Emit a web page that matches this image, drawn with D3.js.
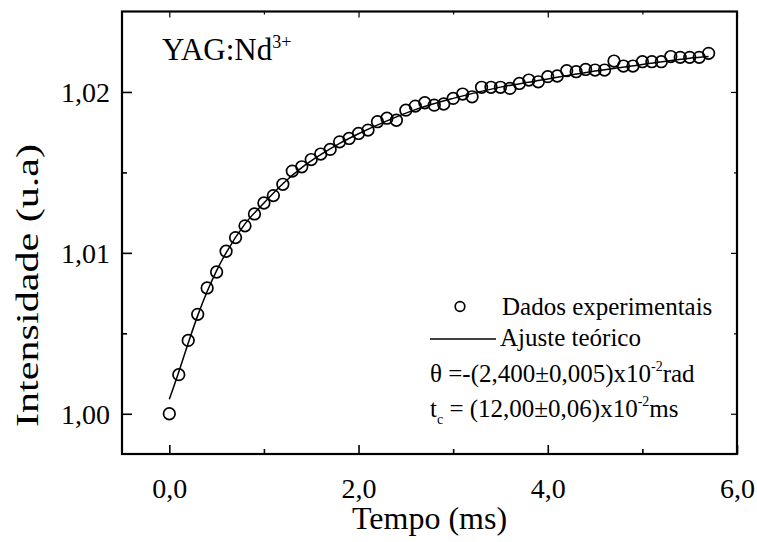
<!DOCTYPE html>
<meta charset="utf-8">
<script src="https://d3js.org/d3.v7.min.js"></script>
<style>
  html, body { margin: 0; padding: 0; background: #fff; }
  text { font-family: 'Liberation Serif', 'Times New Roman', serif; fill: #000; }
</style>
<body>
<div id="my_dataviz"></div>
<script>

// measured points (tempo in ms, intensidade in u.a)
var tempo = [0.0, 0.1, 0.2, 0.3, 0.4, 0.5, 0.6, 0.7, 0.8, 0.9,
             1.0, 1.1, 1.2, 1.3, 1.4, 1.5, 1.6, 1.7, 1.8, 1.9,
             2.0, 2.1, 2.2, 2.3, 2.4, 2.5, 2.6, 2.7, 2.8, 2.9,
             3.0, 3.1, 3.2, 3.3, 3.4, 3.5, 3.6, 3.7, 3.8, 3.9,
             4.0, 4.1, 4.2, 4.3, 4.4, 4.5, 4.6, 4.7, 4.8, 4.9,
             5.0, 5.1, 5.2, 5.3, 5.4, 5.5, 5.6, 5.7];
var intensidade = [1.00000, 1.00243, 1.00456, 1.00618, 1.00782, 1.00881, 1.01010, 1.01095, 1.01168, 1.01242,
                   1.01310, 1.01356, 1.01426, 1.01508, 1.01535, 1.01580, 1.01614, 1.01643, 1.01690, 1.01711,
                   1.01742, 1.01763, 1.01815, 1.01837, 1.01824, 1.01887, 1.01912, 1.01933, 1.01918, 1.01925,
                   1.01960, 1.01987, 1.01970, 1.02029, 1.02029, 1.02029, 1.02022, 1.02053, 1.02074, 1.02063,
                   1.02095, 1.02099, 1.02132, 1.02126, 1.02140, 1.02136, 1.02136, 1.02192, 1.02161, 1.02161,
                   1.02188, 1.02188, 1.02188, 1.02220, 1.02215, 1.02215, 1.02215, 1.02240];

// fitted curve
var ajusteT = [0.0, 0.1, 0.2, 0.3, 0.4, 0.5, 0.6, 0.8, 1.0, 1.2, 1.4, 1.6, 1.8, 2.0, 2.3, 2.6, 3.0, 3.5, 4.0, 4.5, 5.0, 5.5, 5.7];
var ajusteI = [1.0009, 1.0026, 1.0044, 1.0061, 1.0076, 1.0089, 1.0100, 1.0118, 1.0131, 1.0143, 1.0153, 1.0161,
               1.0168, 1.0174, 1.0182, 1.0189, 1.0196, 1.0203, 1.0208, 1.0213, 1.0217, 1.0221, 1.0222];

var xMajor = [0, 2, 4, 6];
var xMinor = [1, 3, 5];
var xLabels = ["0,0", "2,0", "4,0", "6,0"];
var yMajor = [1.00, 1.01, 1.02];
var yMinor = [1.005, 1.015];
var yLabels = ["1,00", "1,01", "1,02"];

var margin = {top: 11.5, right: 20, bottom: 88, left: 122},
    width = 757 - margin.left - margin.right,
    height = 542 - margin.top - margin.bottom;

var svg = d3.select("#my_dataviz")
  .append("svg")
    .attr("width", 757)
    .attr("height", 542)
  .append("g")
    .attr("transform", "translate(" + margin.left + "," + margin.top + ")");

var x = d3.scaleLinear().domain([-0.5, 6.0]).range([0, width]);
var y = d3.scaleLinear().domain([0.9975, 1.025]).range([height, 0]);

// axes, ticks point inward on all four sides
svg.append("g")
  .attr("transform", "translate(0," + height + ")")
  .call(d3.axisBottom(x).tickValues(xMajor).tickSize(-9).tickSizeOuter(0).tickFormat(function(d, i) { return xLabels[i]; }))
  .call(function(g) {
    g.select(".domain").remove();
    g.selectAll(".tick line").attr("stroke-width", 1.6);
    g.selectAll(".tick text").attr("y", 44).attr("dy", 0).style("font-size", "28px");
  });
svg.append("g")
  .attr("transform", "translate(0," + height + ")")
  .call(d3.axisBottom(x).tickValues(xMinor).tickSize(-5).tickFormat(""))
  .call(function(g) { g.select(".domain").remove(); g.selectAll(".tick line").attr("stroke-width", 1.6); });

svg.append("g")
  .call(d3.axisTop(x).tickValues(xMajor).tickSize(-6).tickFormat(""))
  .call(function(g) { g.select(".domain").remove(); g.selectAll(".tick line").attr("stroke-width", 1.2); });
svg.append("g")
  .call(d3.axisTop(x).tickValues(xMinor).tickSize(-3).tickFormat(""))
  .call(function(g) { g.select(".domain").remove(); g.selectAll(".tick line").attr("stroke-width", 1.2); });

svg.append("g")
  .call(d3.axisLeft(y).tickValues(yMajor).tickSize(-10).tickFormat(function(d, i) { return yLabels[i]; }))
  .call(function(g) {
    g.select(".domain").remove();
    g.selectAll(".tick line").attr("stroke-width", 1.6);
    g.selectAll(".tick text").attr("x", -12).attr("dy", "0.34em").style("font-size", "28px");
  });
svg.append("g")
  .call(d3.axisLeft(y).tickValues(yMinor).tickSize(-5).tickFormat(""))
  .call(function(g) { g.select(".domain").remove(); g.selectAll(".tick line").attr("stroke-width", 1.6); });

svg.append("g")
  .attr("transform", "translate(" + width + ",0)")
  .call(d3.axisRight(y).tickValues(yMajor).tickSize(-6).tickFormat(""))
  .call(function(g) { g.select(".domain").remove(); g.selectAll(".tick line").attr("stroke-width", 1.2); });
svg.append("g")
  .attr("transform", "translate(" + width + ",0)")
  .call(d3.axisRight(y).tickValues(yMinor).tickSize(-3).tickFormat(""))
  .call(function(g) { g.select(".domain").remove(); g.selectAll(".tick line").attr("stroke-width", 1.2); });

// frame
svg.append("rect")
  .attr("x", 0).attr("y", 0)
  .attr("width", width).attr("height", height)
  .attr("fill", "none")
  .attr("stroke", "#000")
  .attr("stroke-width", 2.2);

// axis titles
svg.append("text")
  .attr("x", width / 2)
  .attr("y", height + 75)
  .attr("text-anchor", "middle")
  .style("font-size", "32px")
  .text("Tempo (ms)");

svg.append("text")
  .attr("transform", "translate(" + (-margin.left + 38) + "," + 274 + ")rotate(-90)")
  .attr("text-anchor", "middle")
  .attr("textLength", 283)
  .attr("lengthAdjust", "spacingAndGlyphs")
  .style("font-size", "32px")
  .text("Intensidade (u.a)");

// fitted line
var fit = ajusteT.map(function(t, i) { return {t: t, v: ajusteI[i]}; });
svg.append("path")
  .datum(fit)
  .attr("fill", "none")
  .attr("stroke", "#000")
  .attr("stroke-width", 1.5)
  .attr("d", d3.line()
    .curve(d3.curveMonotoneX)
    .x(function(d) { return x(d.t); })
    .y(function(d) { return y(d.v); }));

// data points
svg.append("g")
  .selectAll("circle")
  .data(tempo.map(function(t, i) { return {t: t, v: intensidade[i]}; }))
  .enter()
  .append("circle")
    .attr("cx", function(d) { return x(d.t); })
    .attr("cy", function(d) { return y(d.v); })
    .attr("r", 5.8)
    .attr("fill", "none")
    .attr("stroke", "#000")
    .attr("stroke-width", 1.7);

// sample label
var lab = svg.append("text")
  .attr("x", 40)
  .attr("y", 48)
  .style("font-size", "31px");
lab.append("tspan").text("YAG:Nd");
lab.append("tspan").attr("dy", -12).style("font-size", "18px").text("3+");

// legend
var leg = svg.append("g").attr("transform", "translate(" + (430 - margin.left) + ",0)");
leg.append("circle")
  .attr("cx", 30).attr("cy", 295)
  .attr("r", 4.8)
  .attr("fill", "none").attr("stroke", "#000").attr("stroke-width", 1.7);
leg.append("text").attr("x", 72).attr("y", 303).style("font-size", "25px").text("Dados experimentais");
leg.append("line")
  .attr("x1", 0).attr("x2", 66)
  .attr("y1", 327.5).attr("y2", 327.5)
  .attr("stroke", "#000").attr("stroke-width", 1.5);
leg.append("text").attr("x", 70).attr("y", 334).style("font-size", "25px").text("Ajuste teórico");

var th = leg.append("text").attr("x", 0).attr("y", 370).style("font-size", "25px");
th.append("tspan").text("\u03b8 =-(2,400\u00b10,005)x10");
th.append("tspan").attr("dy", -11).style("font-size", "14px").text("-2");
th.append("tspan").attr("dy", 11).text("rad");

var tc = leg.append("text").attr("x", 0).attr("y", 405).style("font-size", "25px");
tc.append("tspan").text("t");
tc.append("tspan").attr("dy", 7).style("font-size", "14px").text("c");
tc.append("tspan").attr("dy", -7).text(" = (12,00\u00b10,06)x10");
tc.append("tspan").attr("dy", -11).style("font-size", "14px").text("-2");
tc.append("tspan").attr("dy", 11).text("ms");

</script>
</body>
